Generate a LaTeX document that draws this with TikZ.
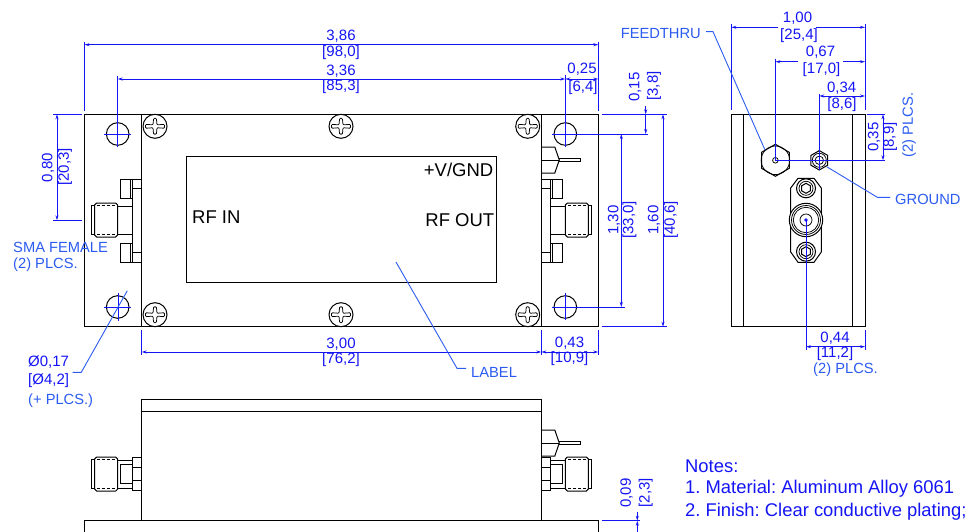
\documentclass[tikz,border=0pt]{standalone}
\usepackage{fontspec}
\setmainfont{Liberation Sans}
\usetikzlibrary{arrows.meta}
\definecolor{dimblue}{HTML}{1414F5}
\definecolor{noteblue}{HTML}{2B5BF0}

\tikzset{
  part/.style={draw=black, line width=1pt},
  thin part/.style={draw=black, line width=0.75pt},
  dimline/.style={draw=dimblue, line width=0.9pt},
  dimarrow/.style={dimline, {Stealth[length=5pt,width=3pt]}-{Stealth[length=5pt,width=3pt]}},
  dimend/.style={dimline, -{Stealth[length=5pt,width=3pt]}},
  leader/.style={draw=noteblue, line width=0.9pt},
  dimtext/.style={text=dimblue, font=\fontsize{15}{16}\selectfont, inner sep=0pt},
  notetext/.style={text=noteblue, font=\fontsize{14.7}{16}\selectfont, inner sep=0pt},
  bodytext/.style={text=black, font=\fontsize{18.5}{19}\selectfont, inner sep=0pt},
  listtext/.style={text=dimblue, font=\fontsize{18.4}{19}\selectfont\frenchspacing, inner sep=0pt, anchor=west},
  pics/screw/.style={code={
      \draw[part, fill=white] (0,0) circle (12);
      \draw[thin part, rounded corners=1pt] (-9.5,-2) -- (-2,-1.4) -- (-1.4,-8) -- (1.4,-8)
        -- (2,-1.4) -- (9.5,-2) -- (9.5,2) -- (2,1.4) -- (1.4,8) -- (-1.4,8)
        -- (-2,1.4) -- (-9.5,2) -- cycle;
  }},
  pics/hexnut/.style={code={
      \draw[part] (30:#1) -- (90:#1) -- (150:#1) -- (210:#1) -- (270:#1) -- (330:#1) -- cycle;
  }},
  pics/smanut/.style={code={
      \draw[part] (-47,-14.5) -- (-50.3,-14.5) -- (-50.3,14.5) -- (-47,14.5);
      \draw[part] (-45,-17) -- (-26,-17) -- (-24,-15) -- (-24,15) -- (-26,17) -- (-45,17) -- (-47,15) -- (-47,-15) -- cycle;
      \draw[thin part, densely dashed] (-45,-14.5) -- (-26,-14.5) (-45,14.5) -- (-26,14.5);
      \draw[part] (-24,-14) -- (-9,-14) (-24,14) -- (-9,14);
  }},
  pics/smatop/.style={code={
      \pic[transform shape] at (0,0) {smanut};
      \draw[part] (-9,-22) -- (-9,23);
      \draw[part] (-9,-41) rectangle (-21,-22) (-11,-41) -- (-11,-22);
      \draw[part] (-9,-41) -- (0,-41) (-9,-32) -- (0,-32);
      \draw[part] (-9,23) rectangle (-21,42) (-11,23) -- (-11,42);
      \draw[part] (-9,32) -- (0,32) (-9,42) -- (0,42);
  }},
  pics/smaside/.style={code={
      \pic[transform shape] at (0,0) {smanut};
      \draw[part] (-21.3,-9.7) rectangle (-9,9.3);
      \draw[part] (-9,-16.7) rectangle (0,16.7) (-9,-6.7) -- (0,-6.7) (-9,6.7) -- (0,6.7);
  }},
  pics/feedthru/.style={code={
      \draw[part] (0,-13) -- (13.5,-13) -- (18,0) -- (13.5,13) -- (0,13);
      \draw[part] (0,0) -- (18,0);
      \draw[thin part] (18,-1.7) -- (39,-1.7) -- (39,1.7) -- (18,1.7);
  }},
  pics/flangebolt/.style={code={
      \draw[part, fill=white] (0,0) circle (9.5);
      \draw[thin part] (0,0) circle (7);
      \pic at (0,0) {hexnut=5};
  }}
}

\begin{document}
\begin{tikzpicture}[x=1pt, y=-1pt]
  \useasboundingbox (0,0) rectangle (971,532);

  % top view
  \draw[part] (84.5,114.3) rectangle (598.3,326.7);
  \draw[part] (141.7,114.3) -- (141.7,326.7);
  \draw[part] (541.3,114.3) -- (541.3,326.7);
  \draw[part] (186,156.3) rectangle (496.3,282.7);
  \draw[part] (117.7,134) circle (11.3);
  \draw[part] (117.7,307) circle (11.3);
  \draw[part] (565.3,134) circle (11.3);
  \draw[part] (565.3,307) circle (11.3);
  \foreach \sx in {155,341,527.7}{
    \pic at (\sx,126.3) {screw};
    \pic at (\sx,314.7) {screw};
  }
  \pic at (141.7,220) {smatop};
  \pic[xscale=-1] at (541.3,220) {smatop};
  \pic at (541.3,160) {feedthru};

  \node[bodytext, anchor=west] (rfin) at (192,217) {RF IN};
  \node[bodytext, anchor=east] (rfout) at (494.5,220) {RF OUT};
  \node[bodytext, anchor=east] (vgnd) at (493.5,170) {+V/GND};

  % side view
  \draw[part] (141.7,520.7) -- (141.7,399.3) -- (541.3,399.3) -- (541.3,520.7);
  \draw[part] (141.7,411) -- (541.3,411);
  \draw[part] (84.5,532) -- (84.5,520.7) -- (598.3,520.7) -- (598.3,532);
  \pic at (141.7,474) {smaside};
  \pic[xscale=-1] at (541.3,474) {smaside};
  \pic at (541.3,443) {feedthru};

  % end view
  \draw[part] (731.3,114.3) rectangle (865,326.7);
  \draw[part] (743.5,114.3) -- (743.5,326.7);
  \draw[part] (852.7,114.3) -- (852.7,326.7);
  \pic at (775.4,160.3) {hexnut=16};
  \draw[thin part] (775.4,160.3) circle (14.3);
  \draw[thin part] (775.4,160.3) circle (2.8);
  \pic at (819.3,160.3) {hexnut=9.7};
  \draw[thin part] (819.3,160.3) circle (7);
  \draw[thin part] (819.3,160.3) circle (4.2);
  \draw[part] (798,178.3) -- (814,178.3) -- (821.3,188) -- (821.3,252) -- (814,262.3) -- (798,262.3) -- (790.7,252) -- (790.7,188) -- cycle;
  \pic at (806,188.3) {flangebolt};
  \pic at (806,251.7) {flangebolt};
  \draw[part, fill=white] (806,220) circle (16.7);
  \draw[thin part] (806,220) circle (14.5);
  \draw[thin part] (806,220) circle (12.7);
  \draw[thin part] (806,220) circle (6);
  \fill[dimblue] (806,220) circle (1.8);

  % anchor points of the dimensions
  \coordinate (overallL) at (84.5,44.7);
  \coordinate (overallR) at (598.3,44.7);
  \coordinate (pitchL) at (117.7,79);
  \coordinate (pitchR) at (565.3,79);
  \coordinate (edgeR) at (598.3,79);
  \coordinate (bodyL) at (141.7,352);
  \coordinate (bodyR) at (541.3,352);
  \coordinate (flangeR) at (598.3,352);
  \coordinate (halfT) at (57,114.3);
  \coordinate (halfB) at (57,220.3);
  \coordinate (holeT) at (645.7,134);
  \coordinate (holeA) at (645.7,106);
  \coordinate (holeB) at (645.7,114.3);
  \coordinate (spanT) at (621.3,134);
  \coordinate (spanB) at (621.3,307);
  \coordinate (heightT) at (663,114.3);
  \coordinate (heightB) at (663,326.7);
  \coordinate (widthL) at (731.3,27.3);
  \coordinate (widthR) at (865,27.3);
  \coordinate (feedL) at (775.4,61.7);
  \coordinate (feedR) at (865,61.7);
  \coordinate (gndL) at (819.3,96);
  \coordinate (gndR) at (865,96);
  \coordinate (depthT) at (883,114.3);
  \coordinate (depthB) at (883,160.3);
  \coordinate (smaL) at (806,346.7);
  \coordinate (smaR) at (865,346.7);
  \coordinate (baseT) at (637.3,511.7);
  \coordinate (baseA) at (637.3,520.7);
  \coordinate (baseB) at (637.3,529);

  % extension lines
  \draw[dimline] (84.5,41.7) -- (84.5,111) (598.3,41.7) -- (598.3,111);
  \draw[dimline] (117.7,76) -- (117.7,146.7) (565.3,75) -- (565.3,146.7);
  \draw[dimline] (104.3,134) -- (131,134) (104.3,307) -- (131,307) (118,293.3) -- (118,320.7) (565.3,292.7) -- (565.3,320);
  \draw[dimline] (551.7,134) -- (648.3,134) (551.7,307) -- (625,307);
  \draw[dimline] (601.7,114.3) -- (666.7,114.3) (601.7,326.7) -- (666.7,326.7);
  \draw[dimline] (53,114.3) -- (82,114.3) (53,220.3) -- (82,220.3);
  \draw[dimline] (141.7,330) -- (141.7,355) (541.3,330) -- (541.3,355) (598.3,330) -- (598.3,355);
  \draw[dimline] (731.3,24) -- (731.3,110) (865,24) -- (865,110);
  \draw[dimline] (775.4,59) -- (775.4,160.3) (819.3,94) -- (819.3,170);
  \draw[dimline] (866.7,114.3) -- (885,114.3) (775.4,160.3) -- (885,160.3);
  \draw[dimline] (806,220) -- (806,350) (865,330) -- (865,349.5);
  \draw[dimline] (601.7,520.7) -- (640,520.7);

  % dimension lines
  \draw[dimarrow] (overallL) -- (overallR);
  \draw[dimarrow] (pitchL) -- (pitchR);
  \draw[dimarrow] (pitchR) -- (edgeR);
  \draw[dimarrow] (bodyL) -- (bodyR);
  \draw[dimarrow] (bodyR) -- (flangeR);
  \draw[dimarrow] (halfT) -- (halfB);
  \draw[dimend] (holeA) -- (holeB);
  \draw[dimline, -{Stealth[length=5pt,width=3pt]}] (holeB) -- (holeT);
  \draw[dimarrow] (spanT) -- (spanB);
  \draw[dimarrow] (heightT) -- (heightB);
  \draw[dimend] (778,27.3) -- (widthL);
  \draw[dimend] (816,27.3) -- (widthR);
  \draw[dimend] (798,61.7) -- (feedL);
  \draw[dimend] (843,61.7) -- (feedR);
  \draw[dimarrow] (gndL) -- (gndR);
  \draw[dimarrow] (depthT) -- (depthB);
  \draw[dimarrow] (smaL) -- (smaR);
  \draw[dimend] (baseT) -- (baseA);
  \draw[dimline, {Stealth[length=5pt,width=3pt]}-] (baseA) -- (baseB);
  \draw[dimline] (baseB) -- (637.3,532);

  % dimension texts
  \node[dimtext] (d386) at (341,36) {3,86};
  \node[dimtext] (m386) at (341,52.5) {[98,0]};
  \node[dimtext] (d336) at (341,71) {3,36};
  \node[dimtext] (m336) at (341,86.5) {[85,3]};
  \node[dimtext] (d025) at (582,69.5) {0,25};
  \node[dimtext] (m025) at (583,88) {[6,4]};
  \node[dimtext] (d300) at (341,344) {3,00};
  \node[dimtext] (m300) at (341,360) {[76,2]};
  \node[dimtext] (d043) at (569.5,343) {0,43};
  \node[dimtext] (m043) at (569.5,358.5) {[10,9]};
  \node[dimtext, rotate=90] (d080) at (48,167.5) {0,80};
  \node[dimtext, rotate=90] (m080) at (65,167) {[20,3]};
  \node[dimtext, rotate=90] (d015) at (635,87) {0,15};
  \node[dimtext, rotate=90] (m015) at (654,86) {[3,8]};
  \node[dimtext, rotate=90] (d130) at (614,220) {1,30};
  \node[dimtext, rotate=90] (m130) at (629.5,220) {[33,0]};
  \node[dimtext, rotate=90] (d160) at (654,220) {1,60};
  \node[dimtext, rotate=90] (m160) at (671,220) {[40,6]};
  \node[dimtext] (d100) at (797.5,18) {1,00};
  \node[dimtext] (m100) at (799,35.5) {[25,4]};
  \node[dimtext] (d067) at (820.5,52) {0,67};
  \node[dimtext] (m067) at (821.5,70) {[17,0]};
  \node[dimtext] (d034) at (841.7,88) {0,34};
  \node[dimtext] (m034) at (842,105) {[8,6]};
  \node[dimtext, rotate=90] (d035) at (874,137) {0,35};
  \node[dimtext, rotate=90] (m035) at (890,137) {[8,9]};
  \node[notetext, rotate=90] (plcsA) at (909,125) {(2) PLCS.};
  \node[dimtext] (d044) at (835,338) {0,44};
  \node[dimtext] (m044) at (835,354) {[11,2]};
  \node[notetext] (plcsB) at (845.5,370) {(2) PLCS.};
  \node[dimtext, rotate=90] (d009) at (626.7,493) {0,09};
  \node[dimtext, rotate=90] (m009) at (645.7,492.7) {[2,3]};

  % leaders and call-outs
  \node[notetext, anchor=west] (smaf) at (13,247) {SMA FEMALE};
  \node[notetext, anchor=west] (smap) at (13,265) {(2) PLCS.};
  \node[dimtext, anchor=west] (dia) at (28,362) {Ø0,17};
  \node[dimtext, anchor=west] (diam) at (28,381) {[Ø4,2]};
  \node[notetext, anchor=west] (diap) at (28,401) {(+ PLCS.)};
  \node[notetext, anchor=west] (label) at (471,372) {LABEL};
  \node[notetext, anchor=east] (feed) at (701,34) {FEEDTHRU};
  \node[notetext, anchor=west] (ground) at (895,199.5) {GROUND};

  \coordinate (diaHook) at (72.7,372.3);
  \coordinate (diaTip) at (127.3,290.7);
  \coordinate (labelHook) at (466,368.3);
  \coordinate (labelTip) at (396,262);
  \coordinate (feedHook) at (706,31.7);
  \coordinate (feedTip) at (765,150);
  \coordinate (gndHook) at (890,197.3);
  \coordinate (gndTip) at (826.7,166.7);
  \draw[leader] (diaHook) -- (81.3,372.3) -- (diaTip);
  \draw[leader] (labelHook) -- (457,368.3) -- (labelTip);
  \draw[leader] (feedHook) -- (713,31.7) -- (feedTip);
  \draw[leader] (gndHook) -- (877.3,197.3) -- (gndTip);

  % notes
  \node[listtext] (notes) at (685,466) {Notes:};
  \node[listtext] (noteA) at (685,489) {1. Material: Aluminum Alloy 6061};
  \node[listtext] (noteB) at (685,512) {2. Finish: Clear conductive plating;};
\end{tikzpicture}
\end{document}
